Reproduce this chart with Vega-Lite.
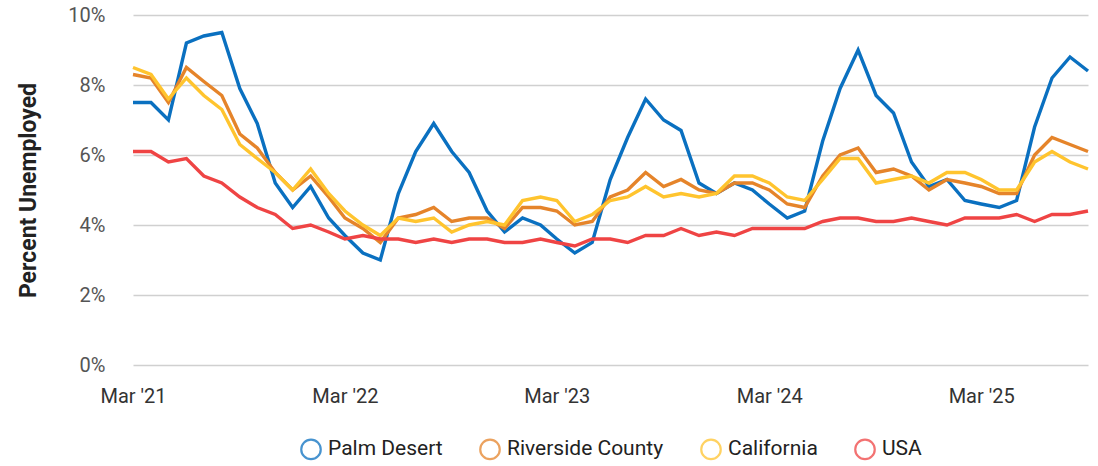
{
  "$schema": "https://vega.github.io/schema/vega-lite/v6.json",
  "width": 955,
  "height": 350,
  "autosize": {"type": "none"},
  "padding": {"left": 133, "top": 15, "right": 10, "bottom": 101},
  "config": {"font": "Roboto", "view": {"stroke": null}},
  "data": {"values": [
{"date":"2021-03-01","series":"Palm Desert","value":7.5},{"date":"2021-04-01","series":"Palm Desert","value":7.5},{"date":"2021-05-01","series":"Palm Desert","value":7.0},{"date":"2021-06-01","series":"Palm Desert","value":9.2},{"date":"2021-07-01","series":"Palm Desert","value":9.4},{"date":"2021-08-01","series":"Palm Desert","value":9.5},{"date":"2021-09-01","series":"Palm Desert","value":7.9},{"date":"2021-10-01","series":"Palm Desert","value":6.9},{"date":"2021-11-01","series":"Palm Desert","value":5.2},{"date":"2021-12-01","series":"Palm Desert","value":4.5},
{"date":"2022-01-01","series":"Palm Desert","value":5.1},{"date":"2022-02-01","series":"Palm Desert","value":4.2},{"date":"2022-03-01","series":"Palm Desert","value":3.7},{"date":"2022-04-01","series":"Palm Desert","value":3.2},{"date":"2022-05-01","series":"Palm Desert","value":3.0},{"date":"2022-06-01","series":"Palm Desert","value":4.9},{"date":"2022-07-01","series":"Palm Desert","value":6.1},{"date":"2022-08-01","series":"Palm Desert","value":6.9},{"date":"2022-09-01","series":"Palm Desert","value":6.1},{"date":"2022-10-01","series":"Palm Desert","value":5.5},
{"date":"2022-11-01","series":"Palm Desert","value":4.4},{"date":"2022-12-01","series":"Palm Desert","value":3.8},{"date":"2023-01-01","series":"Palm Desert","value":4.2},{"date":"2023-02-01","series":"Palm Desert","value":4.0},{"date":"2023-03-01","series":"Palm Desert","value":3.6},{"date":"2023-04-01","series":"Palm Desert","value":3.2},{"date":"2023-05-01","series":"Palm Desert","value":3.5},{"date":"2023-06-01","series":"Palm Desert","value":5.3},{"date":"2023-07-01","series":"Palm Desert","value":6.5},{"date":"2023-08-01","series":"Palm Desert","value":7.6},
{"date":"2023-09-01","series":"Palm Desert","value":7.0},{"date":"2023-10-01","series":"Palm Desert","value":6.7},{"date":"2023-11-01","series":"Palm Desert","value":5.2},{"date":"2023-12-01","series":"Palm Desert","value":4.9},{"date":"2024-01-01","series":"Palm Desert","value":5.2},{"date":"2024-02-01","series":"Palm Desert","value":5.0},{"date":"2024-03-01","series":"Palm Desert","value":4.6},{"date":"2024-04-01","series":"Palm Desert","value":4.2},{"date":"2024-05-01","series":"Palm Desert","value":4.4},{"date":"2024-06-01","series":"Palm Desert","value":6.4},
{"date":"2024-07-01","series":"Palm Desert","value":7.9},{"date":"2024-08-01","series":"Palm Desert","value":9.0},{"date":"2024-09-01","series":"Palm Desert","value":7.7},{"date":"2024-10-01","series":"Palm Desert","value":7.2},{"date":"2024-11-01","series":"Palm Desert","value":5.8},{"date":"2024-12-01","series":"Palm Desert","value":5.1},{"date":"2025-01-01","series":"Palm Desert","value":5.3},{"date":"2025-02-01","series":"Palm Desert","value":4.7},{"date":"2025-03-01","series":"Palm Desert","value":4.6},{"date":"2025-04-01","series":"Palm Desert","value":4.5},
{"date":"2025-05-01","series":"Palm Desert","value":4.7},{"date":"2025-06-01","series":"Palm Desert","value":6.8},{"date":"2025-07-01","series":"Palm Desert","value":8.2},{"date":"2025-08-01","series":"Palm Desert","value":8.8},{"date":"2025-09-01","series":"Palm Desert","value":8.4},
{"date":"2021-03-01","series":"Riverside County","value":8.3},{"date":"2021-04-01","series":"Riverside County","value":8.2},{"date":"2021-05-01","series":"Riverside County","value":7.5},{"date":"2021-06-01","series":"Riverside County","value":8.5},{"date":"2021-07-01","series":"Riverside County","value":8.1},{"date":"2021-08-01","series":"Riverside County","value":7.7},{"date":"2021-09-01","series":"Riverside County","value":6.6},{"date":"2021-10-01","series":"Riverside County","value":6.2},{"date":"2021-11-01","series":"Riverside County","value":5.5},{"date":"2021-12-01","series":"Riverside County","value":5.0},
{"date":"2022-01-01","series":"Riverside County","value":5.4},{"date":"2022-02-01","series":"Riverside County","value":4.8},{"date":"2022-03-01","series":"Riverside County","value":4.2},{"date":"2022-04-01","series":"Riverside County","value":3.9},{"date":"2022-05-01","series":"Riverside County","value":3.5},{"date":"2022-06-01","series":"Riverside County","value":4.2},{"date":"2022-07-01","series":"Riverside County","value":4.3},{"date":"2022-08-01","series":"Riverside County","value":4.5},{"date":"2022-09-01","series":"Riverside County","value":4.1},{"date":"2022-10-01","series":"Riverside County","value":4.2},
{"date":"2022-11-01","series":"Riverside County","value":4.2},{"date":"2022-12-01","series":"Riverside County","value":3.9},{"date":"2023-01-01","series":"Riverside County","value":4.5},{"date":"2023-02-01","series":"Riverside County","value":4.5},{"date":"2023-03-01","series":"Riverside County","value":4.4},{"date":"2023-04-01","series":"Riverside County","value":4.0},{"date":"2023-05-01","series":"Riverside County","value":4.1},{"date":"2023-06-01","series":"Riverside County","value":4.8},{"date":"2023-07-01","series":"Riverside County","value":5.0},{"date":"2023-08-01","series":"Riverside County","value":5.5},
{"date":"2023-09-01","series":"Riverside County","value":5.1},{"date":"2023-10-01","series":"Riverside County","value":5.3},{"date":"2023-11-01","series":"Riverside County","value":5.0},{"date":"2023-12-01","series":"Riverside County","value":4.9},{"date":"2024-01-01","series":"Riverside County","value":5.2},{"date":"2024-02-01","series":"Riverside County","value":5.2},{"date":"2024-03-01","series":"Riverside County","value":5.0},{"date":"2024-04-01","series":"Riverside County","value":4.6},{"date":"2024-05-01","series":"Riverside County","value":4.5},{"date":"2024-06-01","series":"Riverside County","value":5.4},
{"date":"2024-07-01","series":"Riverside County","value":6.0},{"date":"2024-08-01","series":"Riverside County","value":6.2},{"date":"2024-09-01","series":"Riverside County","value":5.5},{"date":"2024-10-01","series":"Riverside County","value":5.6},{"date":"2024-11-01","series":"Riverside County","value":5.4},{"date":"2024-12-01","series":"Riverside County","value":5.0},{"date":"2025-01-01","series":"Riverside County","value":5.3},{"date":"2025-02-01","series":"Riverside County","value":5.2},{"date":"2025-03-01","series":"Riverside County","value":5.1},{"date":"2025-04-01","series":"Riverside County","value":4.9},
{"date":"2025-05-01","series":"Riverside County","value":4.9},{"date":"2025-06-01","series":"Riverside County","value":6.0},{"date":"2025-07-01","series":"Riverside County","value":6.5},{"date":"2025-08-01","series":"Riverside County","value":6.3},{"date":"2025-09-01","series":"Riverside County","value":6.1},
{"date":"2021-03-01","series":"California","value":8.5},{"date":"2021-04-01","series":"California","value":8.3},{"date":"2021-05-01","series":"California","value":7.6},{"date":"2021-06-01","series":"California","value":8.2},{"date":"2021-07-01","series":"California","value":7.7},{"date":"2021-08-01","series":"California","value":7.3},{"date":"2021-09-01","series":"California","value":6.3},{"date":"2021-10-01","series":"California","value":5.9},{"date":"2021-11-01","series":"California","value":5.5},{"date":"2021-12-01","series":"California","value":5.0},
{"date":"2022-01-01","series":"California","value":5.6},{"date":"2022-02-01","series":"California","value":4.9},{"date":"2022-03-01","series":"California","value":4.4},{"date":"2022-04-01","series":"California","value":4.0},{"date":"2022-05-01","series":"California","value":3.7},{"date":"2022-06-01","series":"California","value":4.2},{"date":"2022-07-01","series":"California","value":4.1},{"date":"2022-08-01","series":"California","value":4.2},{"date":"2022-09-01","series":"California","value":3.8},{"date":"2022-10-01","series":"California","value":4.0},
{"date":"2022-11-01","series":"California","value":4.1},{"date":"2022-12-01","series":"California","value":4.0},{"date":"2023-01-01","series":"California","value":4.7},{"date":"2023-02-01","series":"California","value":4.8},{"date":"2023-03-01","series":"California","value":4.7},{"date":"2023-04-01","series":"California","value":4.1},{"date":"2023-05-01","series":"California","value":4.3},{"date":"2023-06-01","series":"California","value":4.7},{"date":"2023-07-01","series":"California","value":4.8},{"date":"2023-08-01","series":"California","value":5.1},
{"date":"2023-09-01","series":"California","value":4.8},{"date":"2023-10-01","series":"California","value":4.9},{"date":"2023-11-01","series":"California","value":4.8},{"date":"2023-12-01","series":"California","value":4.9},{"date":"2024-01-01","series":"California","value":5.4},{"date":"2024-02-01","series":"California","value":5.4},{"date":"2024-03-01","series":"California","value":5.2},{"date":"2024-04-01","series":"California","value":4.8},{"date":"2024-05-01","series":"California","value":4.7},{"date":"2024-06-01","series":"California","value":5.3},
{"date":"2024-07-01","series":"California","value":5.9},{"date":"2024-08-01","series":"California","value":5.9},{"date":"2024-09-01","series":"California","value":5.2},{"date":"2024-10-01","series":"California","value":5.3},{"date":"2024-11-01","series":"California","value":5.4},{"date":"2024-12-01","series":"California","value":5.2},{"date":"2025-01-01","series":"California","value":5.5},{"date":"2025-02-01","series":"California","value":5.5},{"date":"2025-03-01","series":"California","value":5.3},{"date":"2025-04-01","series":"California","value":5.0},
{"date":"2025-05-01","series":"California","value":5.0},{"date":"2025-06-01","series":"California","value":5.8},{"date":"2025-07-01","series":"California","value":6.1},{"date":"2025-08-01","series":"California","value":5.8},{"date":"2025-09-01","series":"California","value":5.6},
{"date":"2021-03-01","series":"USA","value":6.1},{"date":"2021-04-01","series":"USA","value":6.1},{"date":"2021-05-01","series":"USA","value":5.8},{"date":"2021-06-01","series":"USA","value":5.9},{"date":"2021-07-01","series":"USA","value":5.4},{"date":"2021-08-01","series":"USA","value":5.2},{"date":"2021-09-01","series":"USA","value":4.8},{"date":"2021-10-01","series":"USA","value":4.5},{"date":"2021-11-01","series":"USA","value":4.3},{"date":"2021-12-01","series":"USA","value":3.9},
{"date":"2022-01-01","series":"USA","value":4.0},{"date":"2022-02-01","series":"USA","value":3.8},{"date":"2022-03-01","series":"USA","value":3.6},{"date":"2022-04-01","series":"USA","value":3.7},{"date":"2022-05-01","series":"USA","value":3.6},{"date":"2022-06-01","series":"USA","value":3.6},{"date":"2022-07-01","series":"USA","value":3.5},{"date":"2022-08-01","series":"USA","value":3.6},{"date":"2022-09-01","series":"USA","value":3.5},{"date":"2022-10-01","series":"USA","value":3.6},
{"date":"2022-11-01","series":"USA","value":3.6},{"date":"2022-12-01","series":"USA","value":3.5},{"date":"2023-01-01","series":"USA","value":3.5},{"date":"2023-02-01","series":"USA","value":3.6},{"date":"2023-03-01","series":"USA","value":3.5},{"date":"2023-04-01","series":"USA","value":3.4},{"date":"2023-05-01","series":"USA","value":3.6},{"date":"2023-06-01","series":"USA","value":3.6},{"date":"2023-07-01","series":"USA","value":3.5},{"date":"2023-08-01","series":"USA","value":3.7},
{"date":"2023-09-01","series":"USA","value":3.7},{"date":"2023-10-01","series":"USA","value":3.9},{"date":"2023-11-01","series":"USA","value":3.7},{"date":"2023-12-01","series":"USA","value":3.8},{"date":"2024-01-01","series":"USA","value":3.7},{"date":"2024-02-01","series":"USA","value":3.9},{"date":"2024-03-01","series":"USA","value":3.9},{"date":"2024-04-01","series":"USA","value":3.9},{"date":"2024-05-01","series":"USA","value":3.9},{"date":"2024-06-01","series":"USA","value":4.1},
{"date":"2024-07-01","series":"USA","value":4.2},{"date":"2024-08-01","series":"USA","value":4.2},{"date":"2024-09-01","series":"USA","value":4.1},{"date":"2024-10-01","series":"USA","value":4.1},{"date":"2024-11-01","series":"USA","value":4.2},{"date":"2024-12-01","series":"USA","value":4.1},{"date":"2025-01-01","series":"USA","value":4.0},{"date":"2025-02-01","series":"USA","value":4.2},{"date":"2025-03-01","series":"USA","value":4.2},{"date":"2025-04-01","series":"USA","value":4.2},
{"date":"2025-05-01","series":"USA","value":4.3},{"date":"2025-06-01","series":"USA","value":4.1},{"date":"2025-07-01","series":"USA","value":4.3},{"date":"2025-08-01","series":"USA","value":4.3},{"date":"2025-09-01","series":"USA","value":4.4}
  ]},
  "mark": {"type": "line", "strokeWidth": 3.4},
  "encoding": {
    "x": {
      "field": "date",
      "type": "temporal",
      "scale": {"type": "utc", "domain": [{"year": 2021, "month": 3, "date": 1, "utc": true}, {"year": 2025, "month": 9, "date": 1, "utc": true}]},
      "axis": {
        "title": null,
        "values": [{"year": 2021, "month": 3, "date": 1, "utc": true}, {"year": 2022, "month": 3, "date": 1, "utc": true}, {"year": 2023, "month": 3, "date": 1, "utc": true}, {"year": 2024, "month": 3, "date": 1, "utc": true}, {"year": 2025, "month": 3, "date": 1, "utc": true}],
        "labelExpr": "utcFormat(datum.value, \"%b '%y\")",
        "grid": false,
        "domain": false,
        "ticks": false,
        "labelFlush": false,
        "labelOverlap": false,
        "labelBound": false,
        "labelPadding": 21,
        "labelFontSize": 20,
        "labelColor": "#333333"
      }
    },
    "y": {
      "field": "value",
      "type": "quantitative",
      "scale": {"domain": [0, 10]},
      "axis": {
        "title": "Percent Unemployed",
        "values": [0, 2, 4, 6, 8, 10],
        "labelExpr": "datum.value + '%'",
        "grid": true,
        "gridColor": "#d0d0d0",
        "gridWidth": 1.5,
        "domain": false,
        "ticks": false,
        "labelPadding": 28,
        "labelFontSize": 20,
        "labelColor": "#555555",
        "titleFontSize": 23,
        "titleFontWeight": "bold",
        "titleColor": "#222222",
        "titlePadding": 27
      }
    },
    "color": {
      "field": "series",
      "type": "nominal",
      "scale": {"domain": ["Palm Desert", "Riverside County", "California", "USA"], "range": ["#0A70C0", "#E5842A", "#FFC42E", "#EF4444"]},
      "legend": {
        "title": null,
        "orient": "none",
        "legendX": 167,
        "legendY": 423,
        "direction": "horizontal",
        "symbolType": "circle",
        "symbolSize": 380,
        "symbolStrokeWidth": 2.2,
        "symbolFillColor": "white",
        "symbolOpacity": 0.75,
        "labelFontSize": 21,
        "labelColor": "#222222",
        "labelOffset": 6,
        "columnPadding": 32
      }
    }
  }
}
